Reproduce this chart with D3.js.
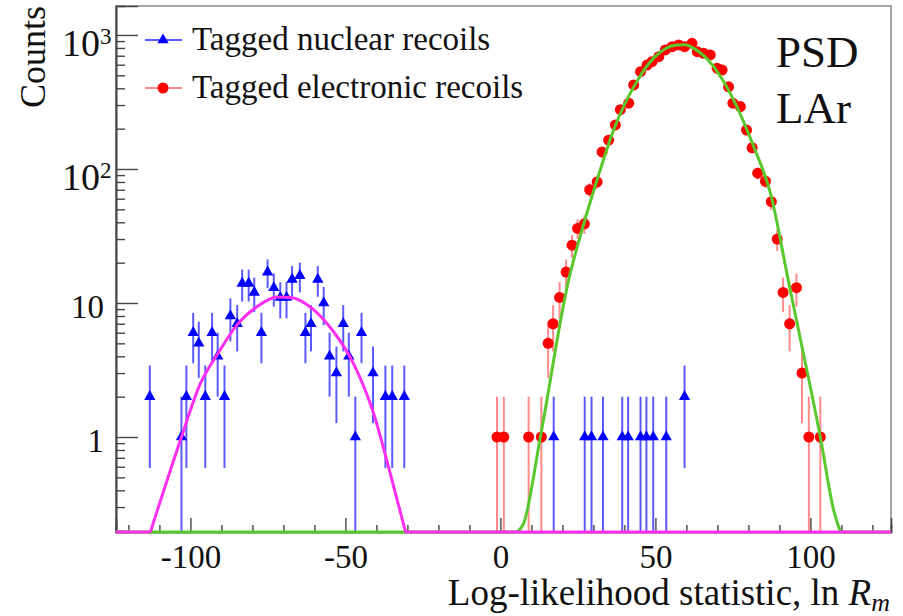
<!DOCTYPE html>
<html><head><meta charset="utf-8">
<script src="https://cdn.jsdelivr.net/npm/d3@7"></script>
<style>
body{margin:0;background:#fff}
svg text{font-family:"Liberation Serif","Times New Roman",serif;fill:#111}
</style>
</head><body>
<svg id="c" width="903" height="616"></svg>
<script>
// ---- data ----
// Tagged nuclear recoils (blue triangles)
const nrX = [-113.1,-102.9,-101.3,-99.1,-97.3,-95.2,-93.0,-91.2,-89.0,-87.1,-84.9,-83.3,-81.2,-79.4,-77.1,-75.1,-73.1,-71.0,-69.0,-67.2,-64.7,-62.9,-61.1,-58.9,-57.0,-55.1,-52.9,-50.7,-48.9,-46.8,-44.8,-41.1,-37.1,-34.9,-31.0,
             17.2,27.2,29.4,33.1,39.3,41.2,45.2,47.1,49.3,53.5,59.4];
const nrY = [2,1,2,6,5,2,6,4,2,8,7,14,14,12,6,17,13,11,11,15,16,6,7,15,10,4,3,7,4,1,6,3,2,2,2,
             1,1,1,1,1,1,1,1,1,1,2];
// Tagged electronic recoils (red circles)
const erX = [-1.1,1.1,9.1,13.2,15.4,17.0,19.1,21.2,23.1,24.9,27.1,28.8,31.2,32.8,34.9,37.1,38.7,41.4,43.0,45.2,47.3,48.9,51.1,53.2,55.4,57.5,59.4,61.8,63.5,65.6,67.7,69.9,71.5,73.6,75.0,77.4,79.4,81.2,83.0,85.5,87.4,89.3,91.2,93.3,95.5,97.3,99.5,103.2];
const erY = [1,1,1,1,5,7,11,17,27,36,39,70,80,134,164,213,277,310,424,532,597,632,689,773,818,842,818,867,750,730,710,565,547,410,310,292,195,144,93,81,57,30,12,7,13,3,1,1];
// fit curves (0 = below the axis floor)
const nrFitX = [-124,-112.9,-103.2,-96.8,-91.4,-84.9,-78.5,-72.0,-67.7,-60.2,-53.8,-47.3,-40.9,-35.5,-30.6,126];
const nrFitY = [0,0,0.95,2.5,4.1,6.9,9.4,11.1,11.0,8.9,6.1,3.5,1.5,0.53,0,0];
const erFitX = [-124,5.4,7.5,12.9,22.0,26.9,31.2,36.5,43.0,49.5,57.0,59.5,62.4,68.8,75.3,81.7,87.1,93.2,97.3,103.2,107.5,109.7,126];
const erFitY = [0,0,0.227,1.0,14.8,39,83,195,410,675,842,845,795,580,325,147,66,13.5,4.7,1.0,0.285,0,0];
// axis ticks
const xMajor = [-100,-50,0,50,100];
const xMajorLabels = ["-100","-50","0","50","100"];
const xMinor = [-120,-110,-90,-80,-70,-60,-40,-30,-20,-10,10,20,30,40,60,70,80,90,110,120];
const yMajor = [1,10,100,1000];
const yMajorBase = ["1","10","10","10"];
const yMajorExp = ["","","2","3"];
const yMinor = [0.2,0.3,0.4,0.5,0.6,0.7,0.8,0.9,2,3,4,5,6,7,8,9,20,30,40,50,60,70,80,90,200,300,400,500,600,700,800,900];
const legendLabels = ["Tagged nuclear recoils","Tagged electronic recoils"];
const boxLines = ["PSD","LAr"];

// ---- drawing ----
const L=116, R=891, T=6, B=532;
const yMin=0.1955, yMax=1645;
const svg = d3.select("#c");
const x = d3.scaleLinear().domain([-124,126]).range([L,R]);
const y = d3.scaleLog().domain([yMin,yMax]).range([B,T]);
const yc = v => y(Math.max(v,yMin));

const cNR="#0000ff", cNRerr="#5a5aff", cER="#ff0000", cERerr="#ff8a8a";
const cGreen="#58c82c", cMag="#ff2ef0";

// frame
svg.append("rect").attr("x",L).attr("y",T).attr("width",R-L).attr("height",B-T)
  .attr("fill","none").attr("stroke","#8a8a8a").attr("stroke-width",1.5);

// axes
const gx = svg.append("g").attr("transform",`translate(0,${B})`);
gx.call(d3.axisBottom(x).tickValues(xMinor).tickSize(-7).tickFormat(""));
const gx2 = svg.append("g").attr("transform",`translate(0,${B})`);
gx2.call(d3.axisBottom(x).tickValues(xMajor).tickSize(-14).tickPadding(24)
  .tickFormat((d,i)=>xMajorLabels[i]));
gx2.selectAll("text").attr("font-size",33).attr("dy",0).attr("y",36)
  .style("font-family",'"Liberation Serif","Times New Roman",serif').attr("fill","#111");
const gy = svg.append("g").attr("transform",`translate(${L},0)`);
gy.call(d3.axisLeft(y).tickValues(yMinor).tickSize(-9).tickFormat(""));
const gy2 = svg.append("g").attr("transform",`translate(${L},0)`);
gy2.call(d3.axisLeft(y).tickValues(yMajor).tickSize(-22).tickFormat(""));
svg.selectAll(".domain").attr("stroke","#444").attr("stroke-width",1.6);
svg.selectAll(".tick line").attr("stroke","#444").attr("stroke-width",1.4);

// y labels
yMajor.forEach((v,i)=>{
  const py=y(v);
  if(yMajorExp[i]===""){
    svg.append("text").attr("x",104).attr("y",py+15).attr("text-anchor","end")
      .attr("font-size",33).text(yMajorBase[i]);
  } else {
    svg.append("text").attr("x",100).attr("y",py+21).attr("text-anchor","end")
      .attr("font-size",38).text(yMajorBase[i]);
    svg.append("text").attr("x",100).attr("y",py+9).attr("text-anchor","start")
      .attr("font-size",23).text(yMajorExp[i]);
  }
});

// axis titles
svg.append("text").attr("transform","translate(45,57) rotate(-90)")
  .attr("text-anchor","middle").attr("font-size",36).text("Counts");
const xt = svg.append("text").attr("x",890).attr("y",605).attr("text-anchor","end").attr("font-size",37);
xt.append("tspan").text("Log-likelihood statistic, ln ");
xt.append("tspan").attr("font-style","italic").text("R");
xt.append("tspan").attr("font-style","italic").attr("font-size",26).attr("dy",6).text("m");

// clip
svg.append("clipPath").attr("id","pc").append("rect")
  .attr("x",L).attr("y",T).attr("width",R-L).attr("height",B-T+3);
const plot = svg.append("g").attr("clip-path","url(#pc)");

function errBars(xs,ys,color){
  plot.append("g").selectAll("line").data(xs).join("line")
    .attr("x1",d=>x(d)).attr("x2",d=>x(d))
    .attr("y1",(d,i)=>yc(ys[i]+Math.sqrt(ys[i])))
    .attr("y2",(d,i)=>{const lo=ys[i]-Math.sqrt(ys[i]); return lo>0?yc(lo):B;})
    .attr("stroke",color).attr("stroke-width",2);
}
errBars(erX,erY,cERerr);
errBars(nrX,nrY,cNRerr);

plot.append("g").selectAll("circle").data(erX).join("circle")
  .attr("cx",d=>x(d)).attr("cy",(d,i)=>yc(erY[i])).attr("r",5.5).attr("fill",cER);
const tri = d3.symbol().type(d3.symbolTriangle).size(56);
plot.append("g").selectAll("path").data(nrX).join("path")
  .attr("d",tri).attr("transform",(d,i)=>`translate(${x(d)},${yc(nrY[i])})`).attr("fill",cNR);

// fit curves: floor runs straight, arches smooth
function drawFit(xs,ys,color){
  const pts = xs.map((d,i)=>[x(d),yc(ys[i])]);
  const g = plot.append("g");
  const lineS = d3.line().curve(d3.curveMonotoneX);
  const lineL = d3.line();
  let i=0;
  const n=pts.length;
  while(i<n-1){
    if(ys[i]<=0 && ys[i+1]<=0){
      let j=i; while(j<n-1 && ys[j+1]<=0) j++;
      g.append("path").attr("d",lineL(pts.slice(i,j+1)));
      i=j;
    } else {
      let j=i+1; while(j<n-1 && ys[j]>0) j++;
      g.append("path").attr("d",lineS(pts.slice(i,j+1)));
      i=j;
    }
  }
  g.selectAll("path").attr("fill","none").attr("stroke",color).attr("stroke-width",3)
    .attr("stroke-linejoin","round");
}
drawFit(erFitX,erFitY,cGreen);
drawFit(nrFitX,nrFitY,cMag);

// legend
const lg = svg.append("g");
[[40,cNRerr,cNR,"tri"],[88,cERerr,cER,"circ"]].forEach((r,i)=>{
  lg.append("line").attr("x1",145).attr("x2",182).attr("y1",r[0]).attr("y2",r[0])
    .attr("stroke",r[1]).attr("stroke-width",2);
  if(r[3]==="tri") lg.append("path").attr("d",tri).attr("transform",`translate(163,${r[0]})`).attr("fill",r[2]);
  else lg.append("circle").attr("cx",163).attr("cy",r[0]).attr("r",5.5).attr("fill",r[2]);
  lg.append("text").attr("x",192).attr("y",r[0]+10).attr("font-size",33).text(legendLabels[i]);
});

// PSD / LAr
boxLines.forEach((t,i)=>{
  svg.append("text").attr("x",776).attr("y",67+i*56).attr("font-size",45).text(t);
});
</script>
</body></html>
